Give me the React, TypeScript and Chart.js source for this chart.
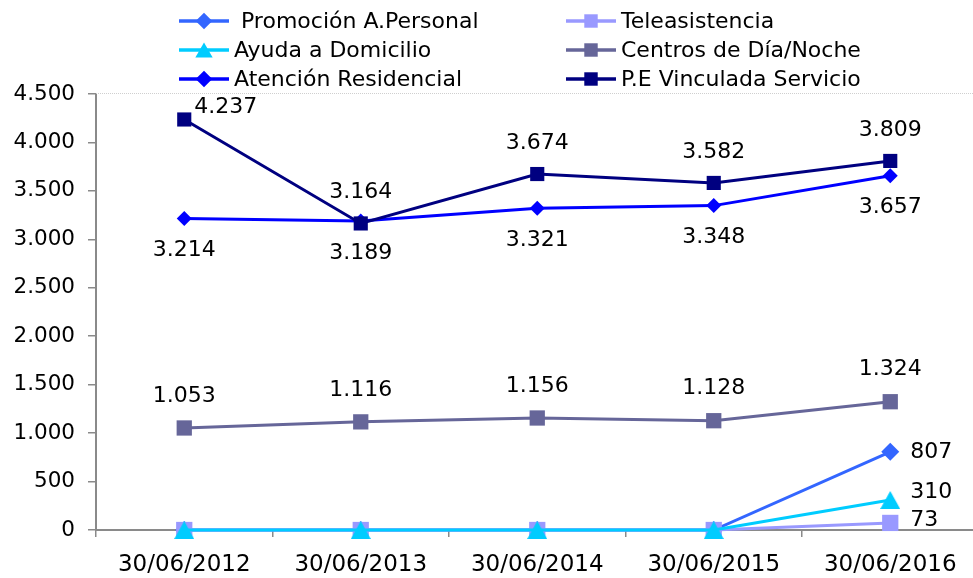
import React, { useEffect, useRef } from 'react';
import { Chart, registerables } from 'chart.js';

Chart.register(...registerables);

// ---- Data ----
const categories = ['30/06/2012', '30/06/2013', '30/06/2014', '30/06/2015', '30/06/2016'];
const promocion = [0, 0, 0, 0, 807];
const teleasistencia = [0, 0, 0, 0, 73];
const ayuda = [0, 0, 0, 0, 310];
const centros = [1053, 1116, 1156, 1128, 1324];
const atencion = [3214, 3189, 3321, 3348, 3657];
const peVinculada = [4237, 3164, 3674, 3582, 3809];
const seriesNames = [
  ' Promoción A.Personal',
  'Teleasistencia',
  'Ayuda a Domicilio',
  'Centros de Día/Noche',
  'Atención Residencial',
  'P.E Vinculada Servicio',
];
const yMin = 0;
const yMax = 4500;
const yStep = 500;

// ---- Styles ----
const FONT = 'DejaVu Sans';
const colors = ['#3366FF', '#9999FF', '#00CCFF', '#666699', '#0000FF', '#000080'];
const pointStyles = ['rectRot', 'rect', 'triangle', 'rect', 'rectRot', 'rect'];
const pointRadii = [9, 11.5, 11.5, 10.8, 7.5, 10];
const labelPlacement = [
  { pos: 'right', dx: 20, dy: 0 },
  { pos: 'right', dx: 20, dy: -3 },
  { pos: 'right', dx: 20, dy: -8 },
  { pos: 'above', dx: 0, dy: -32 },
  { pos: 'below', dx: 0, dy: 32 },
  { pos: 'above', dx: 0, dy: -31 },
];
const labelOverrides: Record<string, { dx: number; dy: number; align: CanvasTextAlign }> = {
  '5-0': { dx: 10, dy: -12, align: 'left' },
};

const fmt = (v: number) =>
  v >= 1000 ? Math.floor(v / 1000) + '.' + String(v % 1000).padStart(3, '0') : String(v);

// Triangle marker centred on its bounding box (like the original)
function makeTriangle(color: string, w: number, h: number): HTMLCanvasElement {
  const c = document.createElement('canvas');
  c.width = w;
  c.height = h;
  const g = c.getContext('2d')!;
  g.fillStyle = color;
  g.beginPath();
  g.moveTo(w / 2, 0);
  g.lineTo(w, h);
  g.lineTo(0, h);
  g.closePath();
  g.fill();
  return c;
}

function drawMarker(ctx: CanvasRenderingContext2D, style: string, x: number, y: number, r: number, color: string) {
  ctx.fillStyle = color;
  ctx.beginPath();
  if (style === 'rect') {
    const s = Math.SQRT1_2 * r;
    ctx.rect(x - s, y - s, 2 * s, 2 * s);
  } else if (style === 'rectRot') {
    ctx.moveTo(x - r, y);
    ctx.lineTo(x, y - r);
    ctx.lineTo(x + r, y);
    ctx.lineTo(x, y + r);
    ctx.closePath();
  } else {
    const w = 1.732 * r, h = 1.5 * r;
    ctx.moveTo(x, y - h / 2);
    ctx.lineTo(x + w / 2, y + h / 2);
    ctx.lineTo(x - w / 2, y + h / 2);
    ctx.closePath();
  }
  ctx.fill();
}

const legendPlugin = {
  id: 'customLegend',
  afterDraw(chart: any) {
    const ctx: CanvasRenderingContext2D = chart.ctx;
    const cols = [
      { lineX: 179, lineLen: 50, textX: 234 },
      { lineX: 566, lineLen: 50, textX: 621 },
    ];
    const rows = [21, 50, 79];
    ctx.save();
    ctx.font = `22px "${FONT}"`;
    ctx.textBaseline = 'middle';
    ctx.textAlign = 'left';
    seriesNames.forEach((name, i) => {
      const c = cols[i % 2];
      const y = rows[Math.floor(i / 2)];
      ctx.strokeStyle = colors[i];
      ctx.lineWidth = 3.5;
      ctx.beginPath();
      ctx.moveTo(c.lineX, y);
      ctx.lineTo(c.lineX + c.lineLen, y);
      ctx.stroke();
      const r = pointStyles[i] === 'triangle' ? 10 : pointStyles[i] === 'rect' ? 9.5 : 8.3;
      drawMarker(ctx, pointStyles[i], c.lineX + c.lineLen / 2, y, r, colors[i]);
      ctx.fillStyle = '#000';
      ctx.fillText(name, c.textX, y + 1);
    });
    ctx.restore();
  },
};

const topBorderPlugin = {
  id: 'topBorder',
  beforeDatasetsDraw(chart: any) {
    const ctx: CanvasRenderingContext2D = chart.ctx;
    const a = chart.chartArea;
    ctx.save();
    ctx.strokeStyle = '#cfcfcf';
    ctx.lineWidth = 1;
    ctx.setLineDash([1, 1]);
    ctx.beginPath();
    ctx.moveTo(a.left, a.top - 0.5);
    ctx.lineTo(chart.width, a.top - 0.5);
    ctx.stroke();
    ctx.restore();
  },
};

const dataLabelPlugin = {
  id: 'dataLabels',
  afterDatasetsDraw(chart: any) {
    const ctx: CanvasRenderingContext2D = chart.ctx;
    ctx.save();
    ctx.font = `22px "${FONT}"`;
    ctx.fillStyle = '#000';
    ctx.textBaseline = 'middle';
    chart.data.datasets.forEach((ds: any, di: number) => {
      const meta = chart.getDatasetMeta(di);
      ds.data.forEach((v: number, i: number) => {
        if (!v) return;
        const pt = meta.data[i];
        const place = labelPlacement[di];
        const ov = labelOverrides[`${di}-${i}`];
        let dx = place.dx, dy = place.dy;
        let align: CanvasTextAlign = place.pos === 'right' ? 'left' : 'center';
        if (ov) { dx = ov.dx; dy = ov.dy; align = ov.align; }
        ctx.textAlign = align;
        ctx.fillText(fmt(v), pt.x + dx, pt.y + dy);
      });
    });
    ctx.restore();
  },
};

export default function App() {
  const ref = useRef<HTMLCanvasElement>(null);

  useEffect(() => {
    document.body.style.margin = '0';
    const canvas = ref.current!;
    const series = [promocion, teleasistencia, ayuda, centros, atencion, peVinculada];
    const chart = new Chart(canvas, {
      type: 'line',
      data: {
        labels: categories,
        datasets: series.map((d, i) => ({
          label: seriesNames[i],
          data: d,
          borderColor: colors[i],
          backgroundColor: colors[i],
          pointBackgroundColor: colors[i],
          pointBorderColor: colors[i],
          pointBorderWidth: 0,
          pointStyle: (pointStyles[i] === 'triangle' ? makeTriangle(colors[i], 20, 18) : pointStyles[i]) as any,
          pointRadius: pointRadii[i],
          pointHoverRadius: pointRadii[i],
          borderWidth: 3,
          tension: 0,
          fill: false,
          clip: false as any,
          order: 6 - i,
        })),
      },
      options: {
        responsive: false,
        animation: false,
        devicePixelRatio: 1,
        layout: { padding: { top: 94, right: 6.5, left: 0, bottom: 0 } },
        plugins: {
          legend: { display: false },
          tooltip: { enabled: false },
        },
        scales: {
          x: {
            type: 'category',
            offset: true,
            grid: {
              display: true,
              drawOnChartArea: false,
              drawTicks: true,
              tickLength: 7,
              color: '#8a8a8a',
              lineWidth: 1.5,
              offset: true,
            },
            border: { display: true, color: '#8a8a8a', width: 2 },
            ticks: {
              color: '#000',
              font: { family: FONT, size: 23 },
              padding: 14,
              maxRotation: 0,
              autoSkip: false,
            },
            afterFit: (s: any) => { s.height = 48; },
          },
          y: {
            min: yMin,
            max: yMax,
            grid: {
              display: true,
              drawOnChartArea: false,
              drawTicks: true,
              tickLength: 8,
              color: '#8a8a8a',
              lineWidth: 1.5,
            },
            border: { display: true, color: '#8a8a8a', width: 2 },
            ticks: {
              stepSize: yStep,
              color: '#000',
              font: { family: FONT, size: 21.5 },
              padding: 13,
              callback: (v: any) => fmt(Number(v)),
            },
            afterFit: (s: any) => { s.width = 96; },
          },
        },
      },
      plugins: [topBorderPlugin, dataLabelPlugin, legendPlugin],
    });
    return () => chart.destroy();
  }, []);

  return (
    <div style={{ position: 'fixed', left: 0, top: 0, width: 973, height: 578, overflow: 'hidden', background: '#fff' }}>
      <canvas ref={ref} width={990} height={578} style={{ width: 990, height: 578, display: 'block' }} />
    </div>
  );
}
